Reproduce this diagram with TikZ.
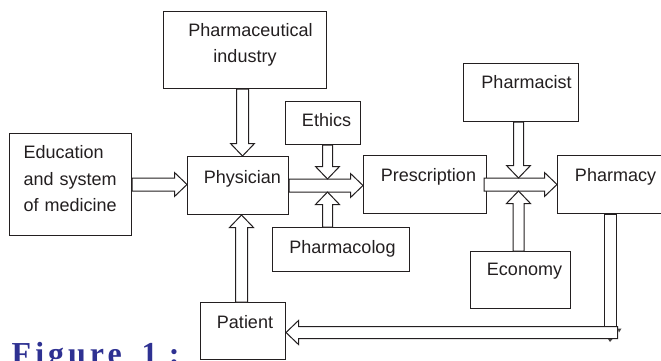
\documentclass[tikz,border=0pt]{standalone}
\usepackage{fontspec}
\setmainfont{Liberation Sans}
\newfontfamily\captionserif{Liberation Serif}[LetterSpace=12.5]
\usetikzlibrary{calc}
\definecolor{ink}{RGB}{35,31,32}
\definecolor{capblue}{RGB}{46,49,146}

\tikzset{
  pbox/.style n args={3}{draw=ink, line width=1pt, fill=white, text=ink,
    font=\fontsize{18pt}{26.5pt}\selectfont, inner xsep=0pt, inner ysep=0pt,
    minimum width=#1, text height=#2, text depth=#3, anchor=north west},
  fat/.style={draw=ink, line width=1pt, fill=white, line join=miter},
  nub/.style={fill=ink!85},
}
% outlined block arrow: [shaft half-width]{tail}{tip}
\newcommand\fatarrow[3][6pt]{%
  \coordinate (fa-b) at ($(#3)!12.5pt!(#2)$);
  \draw[fat] ($(#2)!#1!90:(#3)$) -- ($(fa-b)!#1!-90:(#2)$)
    -- ($(fa-b)!12pt!-90:(#2)$) -- (#3) -- ($(fa-b)!12pt!90:(#2)$)
    -- ($(fa-b)!#1!90:(#2)$) -- ($(#2)!#1!-90:(#3)$) -- cycle;}

\begin{document}
\begin{tikzpicture}[x=1pt,y=-1pt]
\useasboundingbox (0,0) rectangle (661,361);
\clip (0,0) rectangle (661,361);

% boxes
\node[pbox={163pt}{25pt}{52pt}, align=center, text width=136pt] (pind) at (163,11) {\hspace*{11pt}Pharmaceutical\\industry};
\node[pbox={122pt}{25pt}{77pt}, align=left, text width=94pt] (edu) at (9,133) {Education\\and system\\of medicine};
\node[pbox={101pt}{27pt}{31pt}] (phys) at (187,156) {\hspace*{9pt}Physician};
\node[pbox={75pt}{25pt}{18pt}] (ethics) at (285,101) {\hspace*{7pt}Ethics};
\node[pbox={137pt}{26pt}{18pt}] (pcol) at (272,227) {\hspace*{3pt}Pharmacolog};
\node[pbox={123pt}{26pt}{32pt}] (presc) at (363,155) {\hspace*{7pt}Prescription};
\node[pbox={115pt}{25pt}{33pt}] (pist) at (463,63) {\hspace*{11pt}Pharmacist};
\node[pbox={116pt}{26pt}{32pt}] (pmacy) at (557,155) {Pharmacy};
\node[pbox={100pt}{24pt}{33pt}] (econ) at (470,251) {\hspace*{8pt}Economy};
\node[pbox={85pt}{26pt}{31pt}] (pat) at (200,302) {\hspace*{4pt}Patient};

% education -> physician
\coordinate (h1) at (edu.east -| phys.west);
\fatarrow[6.5pt]{edu.east}{h1}
% industry -> physician
\coordinate (t2) at ([xshift=-2.5pt]pind.south);
\coordinate (h2) at (t2 |- phys.north);
\fatarrow{t2}{h2}
% patient -> physician
\coordinate (t3) at ([xshift=-1.5pt]pat.north);
\coordinate (h3) at (t3 |- phys.south);
\fatarrow{t3}{h3}
% physician -> prescription
\coordinate (h4) at (phys.east -| presc.west);
\fatarrow[6.5pt]{phys.east}{h4}
% prescription -> pharmacy
\coordinate (t7) at ([xshift=-3pt]presc.east);
\coordinate (h7) at (presc.east -| pmacy.west);
\fatarrow[6.5pt]{t7}{h7}

% ethics and pharmacology feed the first line
\coordinate (t5) at ([xshift=4.5pt]ethics.south);
\coordinate (j1) at (t5 |- phys.east);
\coordinate (h5) at ([yshift=6.5pt]j1);
\fatarrow[5pt]{t5}{h5}
\coordinate (t6) at (j1 |- pcol.north);
\coordinate (h6) at ([yshift=-6.5pt]j1);
\fatarrow[5pt]{t6}{h6}

% pharmacist and economy feed the second line
\coordinate (t8) at ([xshift=-2.5pt]pist.south);
\coordinate (j2) at (t8 |- presc.east);
\coordinate (h8) at ([yshift=6.5pt]j2);
\fatarrow[5pt]{t8}{h8}
\coordinate (t9) at (j2 |- econ.north);
\coordinate (h9) at ([yshift=-6.5pt]j2);
\fatarrow[5.5pt]{t9}{h9}

% pharmacy -> patient, with a bend
\coordinate (d0) at ([xshift=-5pt]pmacy.south);
\coordinate (h10) at ([yshift=-1.5pt]pat.east);
\coordinate (elb) at (d0 |- h10);
\draw[fat] ([xshift=-6pt]d0) rectangle ([xshift=6pt,yshift=6pt]elb);
\coordinate (t10) at ([xshift=7pt]elb);
\fatarrow{t10}{h10}
\fill[nub] ([shift={(7,-4)}]elb) -- ++(4,0) -- ++(-2.5,4) -- cycle;
\fill[nub] ([shift={(-2.5,6.5)}]elb) -- ++(4.5,0) -- ++(-2.5,3) -- cycle;

% caption
\node[anchor=base west, inner sep=0pt, text=capblue,
  font=\captionserif\bfseries\fontsize{32pt}{32pt}\selectfont] (cap) at (11.5,364.5)
  {Figure \hspace{8pt}1\hspace{11pt}:};
\end{tikzpicture}
\end{document}
